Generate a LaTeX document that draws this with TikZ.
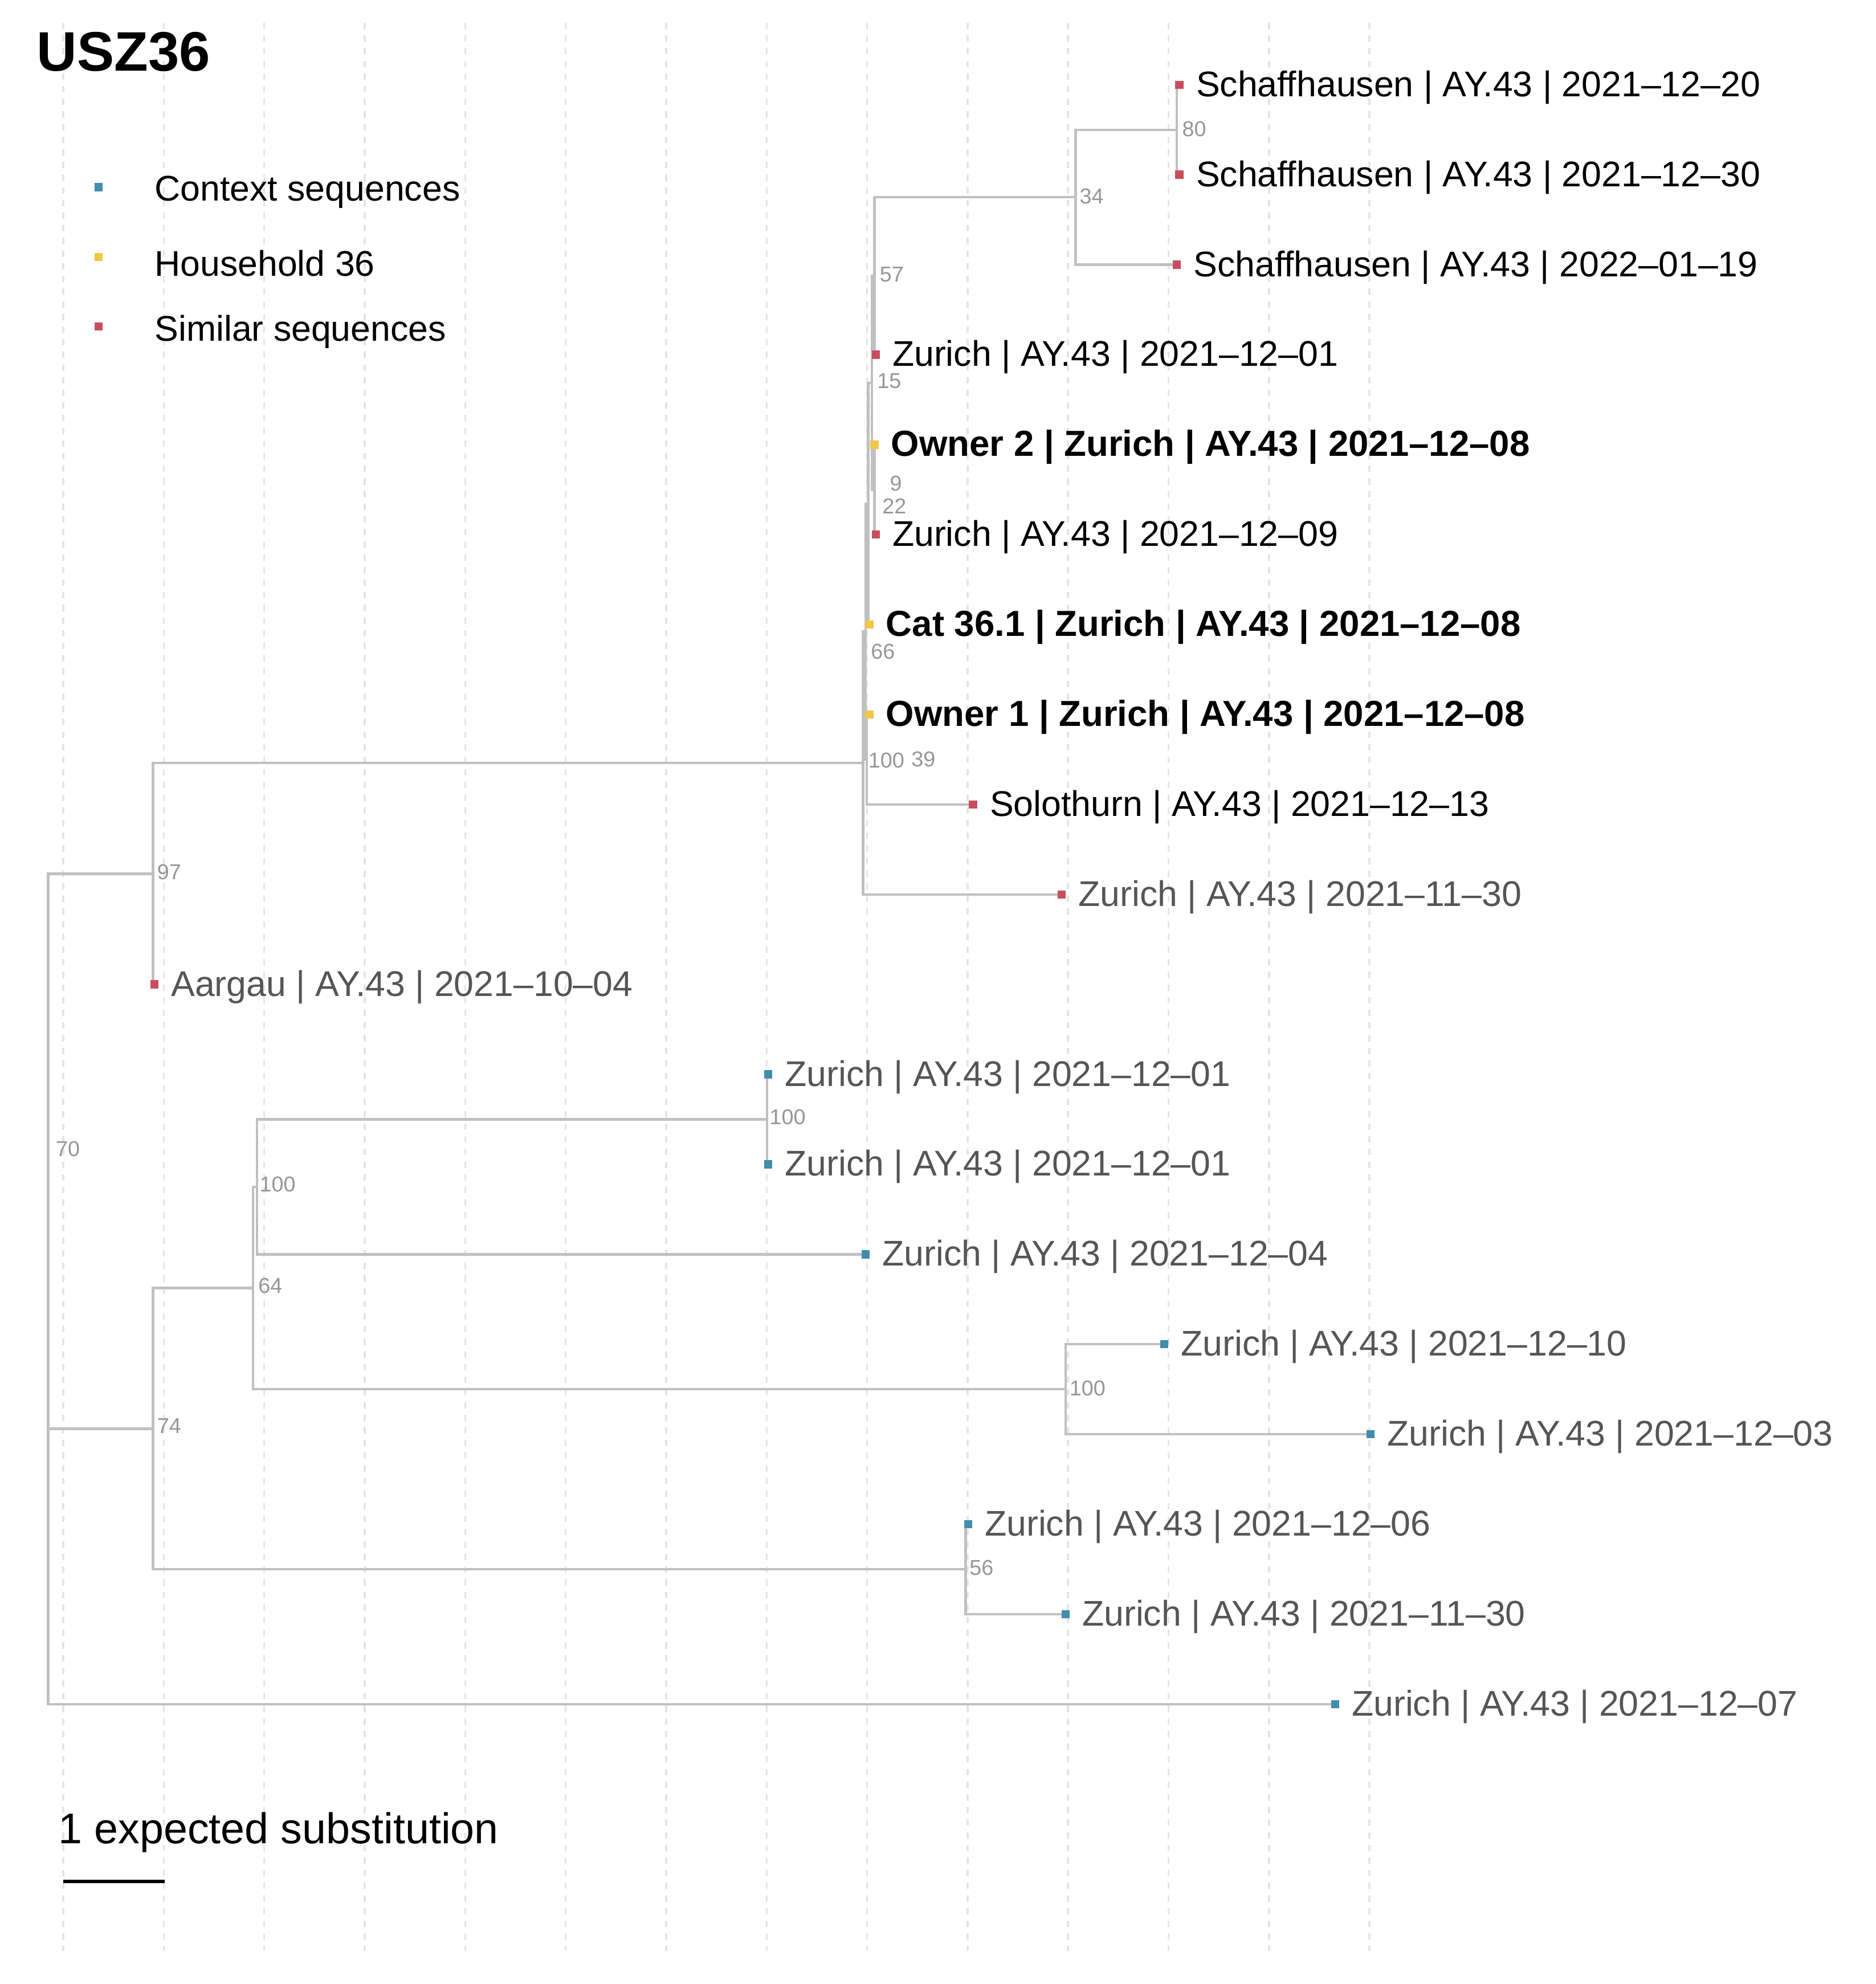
\documentclass[tikz,border=0pt]{standalone}
\usepackage{fontspec}
\setmainfont{Liberation Sans}
\definecolor{branchgray}{RGB}{192,192,192}
\definecolor{gridgray}{RGB}{228,228,228}
\definecolor{bootgray}{RGB}{150,150,150}
\definecolor{labgray}{RGB}{85,85,85}
\definecolor{ctxblue}{RGB}{66,140,172}
\definecolor{hhyellow}{RGB}{240,198,72}
\definecolor{simred}{RGB}{200,78,94}
\tikzset{
  branch/.style={draw=branchgray, line width=2pt},
  gridline/.style={draw=gridgray, line width=1.6pt, dash pattern=on 5pt off 5pt},
  tipdot/.style={rectangle, inner sep=0pt, minimum size=6.5pt},
  ctxdot/.style={tipdot, fill=ctxblue},
  hhdot/.style={tipdot, fill=hhyellow},
  simdot/.style={tipdot, fill=simred},
  tiplab/.style={anchor=west, inner sep=0pt, font=\fontsize{28.2}{31}\selectfont, xshift=13pt, yshift=-2pt},
  tipgray/.style={tiplab, text=labgray},
  tipbold/.style={tiplab, font=\fontsize{28.6}{31}\selectfont\bfseries},
  boot/.style={anchor=west, inner sep=0pt, text=bootgray, font=\fontsize{17}{19}\selectfont},
  legtext/.style={anchor=west, inner sep=0pt, font=\fontsize{28.2}{31}\selectfont, yshift=-2pt}
}
\begin{document}
\begin{tikzpicture}[x=1pt, y=-1pt]
\useasboundingbox (0,0) rectangle (1482,1568);
% grid
\foreach \k in {0,...,13} {
  \draw[gridline] (50+79.4*\k, 18) -- (50+79.4*\k, 1542);
}
% internal nodes
\coordinate (root) at (38,1128.3);
\coordinate (n70) at (38,909.8);
\coordinate (n97) at (121,690.5);
\coordinate (n74) at (121,1129.1);
\coordinate (n64) at (200,1018);
\coordinate (n100b) at (203,938);
\coordinate (n100a) at (606,884.65);
\coordinate (n100c) at (842,1097.95);
\coordinate (n56) at (763,1240.15);
\coordinate (n100u) at (682,603);
\coordinate (n66) at (684,499.15);
\coordinate (n39) at (685,600.25);
\coordinate (n22) at (686,398.05);
\coordinate (n15) at (689,302.5);
\coordinate (n9) at (691,386.95);
\coordinate (n57) at (691,218.1);
\coordinate (n34) at (850,155.9);
\coordinate (n80) at (930,102.55);
% tips
\coordinate (t1) at (932,67);
\coordinate (t2) at (932,138.1);
\coordinate (t3) at (930,209.2);
\coordinate (t4) at (692,280.3);
\coordinate (t5) at (691,351.4);
\coordinate (t6) at (692,422.5);
\coordinate (t7) at (687,493.6);
\coordinate (t8) at (687,564.7);
\coordinate (t9) at (769,635.8);
\coordinate (t10) at (839,706.9);
\coordinate (t11) at (122,778);
\coordinate (t12) at (607,849.1);
\coordinate (t13) at (607,920.2);
\coordinate (t14) at (684,991.3);
\coordinate (t15) at (920,1062.4);
\coordinate (t16) at (1083,1133.5);
\coordinate (t17) at (765,1204.6);
\coordinate (t18) at (842,1275.7);
\coordinate (t19) at (1055,1346.8);
% branches
\foreach \p/\c in {root/n70, root/t19, n70/n97, n70/n74, n97/n100u, n97/t11,
  n100u/n66, n100u/t10, n66/n22, n66/n39, n39/t8, n39/t9, n22/n15, n22/t7,
  n15/n57, n15/n9, n9/t5, n9/t6, n57/n34, n57/t4, n34/n80, n34/t3, n80/t1, n80/t2,
  n74/n64, n74/n56, n64/n100b, n64/n100c, n100b/n100a, n100b/t14, n100a/t12, n100a/t13,
  n100c/t15, n100c/t16, n56/t17, n56/t18} {
  \draw[branch] (\p) |- (\c);
}
% tip dots
\foreach \t in {t1,t2,t3,t4,t6,t9,t10,t11} { \node[simdot] (d\t) at (\t) {}; }
\foreach \t in {t5,t7,t8} { \node[hhdot] (d\t) at (\t) {}; }
\foreach \t in {t12,t13,t14,t15,t16,t17,t18,t19} { \node[ctxdot] (d\t) at (\t) {}; }
% tip labels
\node[tiplab] (l1) at (t1) {Schaffhausen | AY.43 | 2021--12--20};
\node[tiplab] (l2) at (t2) {Schaffhausen | AY.43 | 2021--12--30};
\node[tiplab] (l3) at (t3) {Schaffhausen | AY.43 | 2022--01--19};
\node[tiplab] (l4) at (t4) {Zurich | AY.43 | 2021--12--01};
\node[tipbold] (l5) at (t5) {Owner 2 | Zurich | AY.43 | 2021--12--08};
\node[tiplab] (l6) at (t6) {Zurich | AY.43 | 2021--12--09};
\node[tipbold] (l7) at (t7) {Cat 36.1 | Zurich | AY.43 | 2021--12--08};
\node[tipbold] (l8) at (t8) {Owner 1 | Zurich | AY.43 | 2021--12--08};
\node[tiplab] (l9) at (t9) {Solothurn | AY.43 | 2021--12--13};
\node[tipgray] (l10) at (t10) {Zurich | AY.43 | 2021--11--30};
\node[tipgray] (l11) at (t11) {Aargau | AY.43 | 2021--10--04};
\node[tipgray] (l12) at (t12) {Zurich | AY.43 | 2021--12--01};
\node[tipgray] (l13) at (t13) {Zurich | AY.43 | 2021--12--01};
\node[tipgray] (l14) at (t14) {Zurich | AY.43 | 2021--12--04};
\node[tipgray] (l15) at (t15) {Zurich | AY.43 | 2021--12--10};
\node[tipgray] (l16) at (t16) {Zurich | AY.43 | 2021--12--03};
\node[tipgray] (l17) at (t17) {Zurich | AY.43 | 2021--12--06};
\node[tipgray] (l18) at (t18) {Zurich | AY.43 | 2021--11--30};
\node[tipgray] (l19) at (t19) {Zurich | AY.43 | 2021--12--07};
% bootstrap labels
\node[boot] (b80) at (934,102) {80};
\node[boot] (b34) at (853,155) {34};
\node[boot] (b57) at (695,217) {57};
\node[boot] (b15) at (693,301) {15};
\node[boot] (b9) at (703,382) {9};
\node[boot] (b22) at (697,400) {22};
\node[boot] (b66) at (688,515) {66};
\node[boot] (b100u) at (686,601) {100};
\node[boot] (b39) at (720,600) {39};
\node[boot] (b97) at (124,689) {97};
\node[boot] (b100a) at (608,883) {100};
\node[boot] (b100b) at (205,936) {100};
\node[boot] (b64) at (204,1016) {64};
\node[boot] (b100c) at (845,1097) {100};
\node[boot] (b74) at (124,1127) {74};
\node[boot] (b70) at (44,908) {70};
\node[boot] (b56) at (766,1239) {56};
% title
\node[anchor=west, inner sep=0pt, font=\fontsize{44}{47}\selectfont\bfseries] (title) at (29,41) {USZ36};
% legend
\node[ctxdot] (kc) at (78,148) {};
\node[hhdot] (kh) at (78,203) {};
\node[simdot] (ks) at (78,258) {};
\node[legtext] (lc) at (122,150) {Context sequences};
\node[legtext] (lh) at (122,206) {Household 36};
\node[legtext] (ls) at (122,260) {Similar sequences};
% scale bar
\node[anchor=west, inner sep=0pt, font=\fontsize{34}{37}\selectfont] (scaletext) at (46,1448) {1 expected substitution};
\coordinate (sb0) at (50,1487);
\coordinate (sb1) at (130,1487);
\draw[line width=3pt, black] (sb0) -- (sb1);
\end{tikzpicture}
\end{document}
